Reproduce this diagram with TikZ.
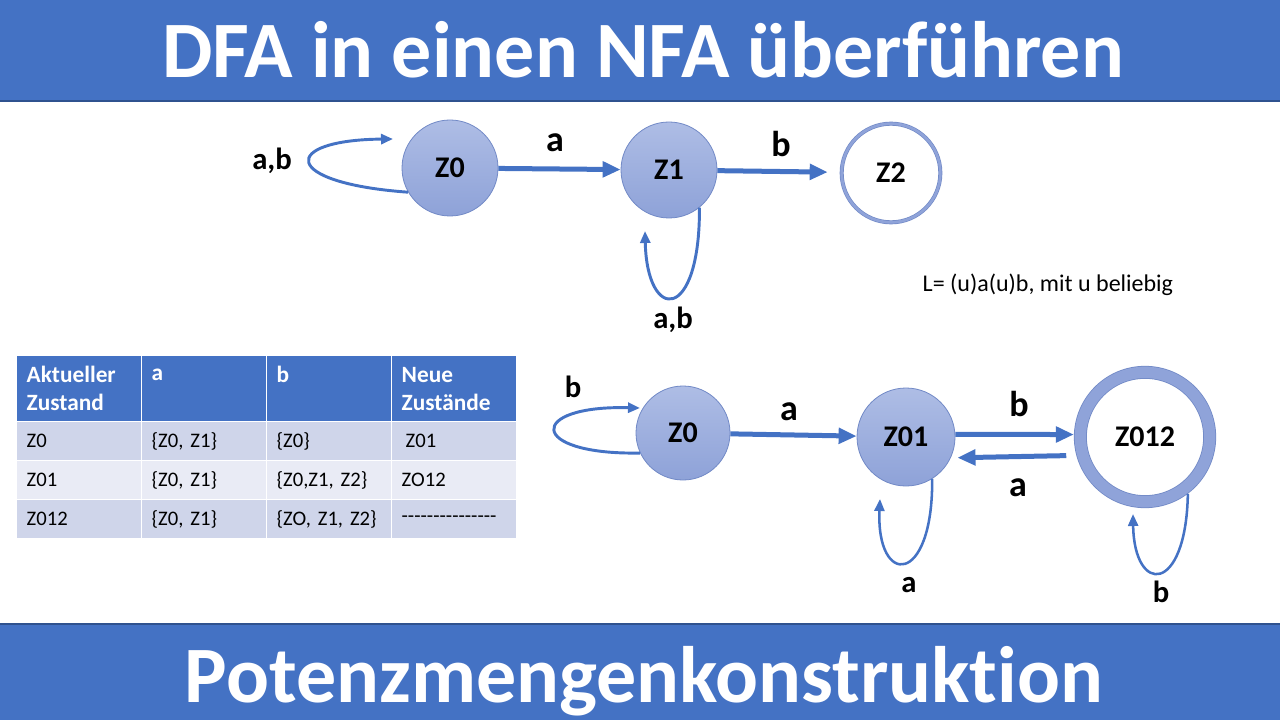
\documentclass[tikz,border=0pt]{standalone}
\usepackage{fontspec}
\setmainfont{Carlito}[Ligatures=NoCommon]
\usepackage{tikz}
\usetikzlibrary{arrows.meta,positioning,calc}

\definecolor{bandblue}{HTML}{4472C4}
\definecolor{bandline}{HTML}{2F528F}
\definecolor{nodetop}{HTML}{AEBDE5}
\definecolor{nodebot}{HTML}{8EA2D8}
\definecolor{nodeedge}{HTML}{7189C6}
\definecolor{ringblue}{HTML}{8FA3D9}
\definecolor{rowdark}{HTML}{CFD5EA}
\definecolor{rowlight}{HTML}{E9EBF5}

\begin{document}
\begin{tikzpicture}[x=0.75pt, y=-0.75pt,
    title/.style={text=white, font=\fontsize{60}{66}\selectfont\bfseries},
    state/.style={circle, draw=nodeedge, line width=0.6pt, top color=nodetop, bottom color=nodebot, minimum size=72pt, inner sep=0pt, font=\fontsize{22.5}{26}\selectfont\bfseries},
    final/.style={circle, draw=nodeedge, line width=0.5pt, double=ringblue, double distance=2pt, fill=white, minimum size=74pt, inner sep=0pt, outer sep=1.5pt, font=\fontsize{22.5}{26}\selectfont\bfseries},
    bigfinal/.style={final, line width=0.6pt, double distance=8.5pt, minimum size=97pt, outer sep=4.9pt},
    edge/.style={-{Triangle[length=13.5pt,width=11.5pt]}, line width=3.75pt, draw=bandblue},
    loopedge/.style={-{Triangle[length=9pt,width=7.5pt]}, line width=2.2pt, draw=bandblue},
    sym/.style={anchor=base, font=\fontsize{27}{30}\selectfont\bfseries},
    loopsym/.style={anchor=base, font=\fontsize{23}{26}\selectfont\bfseries},
    hcell/.style={rectangle, anchor=north west, draw=white, line width=1pt, fill=bandblue, text=white, align=left, minimum width=93.75pt, minimum height=49.5pt, text width=78.75pt, inner xsep=7.5pt, font=\fontsize{17.5}{21}\selectfont\bfseries},
    cell/.style={rectangle, anchor=north west, draw=white, line width=1pt, align=left, minimum width=93.75pt, minimum height=29.25pt, text width=78.75pt, inner xsep=7.5pt, font=\fontsize{15.5}{18}\selectfont}
]
    \useasboundingbox (0,0) rectangle (1280,720);

    % Title bands
    \fill[bandblue] (0,0) rectangle (1280,100);
    \fill[bandline] (0,100) rectangle (1280,102);
    \fill[bandblue] (0,624) rectangle (1280,720);
    \fill[bandline] (0,623) rectangle (1280,624.5);
    \node[title, anchor=base] (head) at (643,78) {DFA in einen NFA überführen};
    \node[title, anchor=base] (foot) at (644,702) {Potenzmengenkonstruktion};

    % NFA (top)
    \node[state] (z0) at (450,168) {Z0};
    \node[state] (z1) at (669,170) {Z1};
    \node[final] (z2) at (891,173) {Z2};
    \coordinate (z0in) at (393,139);
    \coordinate (z1in) at (645,231);

    \draw[edge] (z0) -- (z1);
    \draw[edge, shorten >=9pt] (z1) -- (z2);
    \draw[loopedge] (z0.210) .. controls (280,183) and (280,140) .. (z0in);
    \draw[loopedge] (z1.-51) .. controls (700,323) and (647,323) .. (z1in);

    \node[sym] (za) at (555,152) {a};
    \node[sym] (zb) at (781,157) {b};
    \node[loopsym] (z0ab) at (272,170) {a,b};
    \node[loopsym] (z1ab) at (673,328) {a,b};

    \node[anchor=base west, font=\fontsize{18}{21}\selectfont] (lang) at (918,291) {L= (u)a(u)b, mit u beliebig};

    % Table
    \node[hcell] (h1) at (16,355) {Aktueller\\Zustand};
    \node[hcell] (h2) at (141,355) {a\\~};
    \node[hcell] (h3) at (266,355) {b\\~};
    \node[hcell] (h4) at (391,355) {Neue\\Zustände};

    \node[cell, fill=rowdark] (r1c1) at (16,421) {Z0};
    \node[cell, fill=rowdark] (r1c2) at (141,421) {\{Z0, Z1\}};
    \node[cell, fill=rowdark] (r1c3) at (266,421) {\{Z0\}};
    \node[cell, fill=rowdark] (r1c4) at (391,421) {\hspace{3pt}Z01};

    \node[cell, fill=rowlight] (r2c1) at (16,460) {Z01};
    \node[cell, fill=rowlight] (r2c2) at (141,460) {\{Z0, Z1\}};
    \node[cell, fill=rowlight] (r2c3) at (266,460) {\{Z0,Z1, Z2\}};
    \node[cell, fill=rowlight] (r2c4) at (391,460) {ZO12};

    \node[cell, fill=rowdark] (r3c1) at (16,499) {Z012};
    \node[cell, fill=rowdark] (r3c2) at (141,499) {\{Z0, Z1\}};
    \node[cell, fill=rowdark] (r3c3) at (266,499) {\{ZO, Z1, Z2\}};
    \node[cell, fill=rowdark] (r3c4) at (391,499) {{-}{-}{-}{-}{-}{-}{-}{-}{-}{-}{-}{-}{-}{-}{-}};

    % DFA (bottom)
    \node[state, minimum size=70.5pt] (q0) at (683,433) {Z0};
    \node[state, minimum size=73.5pt] (q01) at (906,437) {Z01};
    \node[bigfinal] (q012) at (1145,437) {Z012};
    \coordinate (q0in) at (640,408);
    \coordinate (q01in) at (880,499);
    \coordinate (q012in) at (1133,514);

    \draw[edge] (q0) -- (q01);
    \draw[edge] (q01.3) -- (q012.178);
    \draw[edge, shorten <=7.5pt, shorten >=5pt] (q012.195) -- (q01.-25);
    \draw[loopedge] (q0.205) .. controls (527,455) and (527,405) .. (q0in);
    \draw[loopedge, line width=1.9pt] (q01.-58) .. controls (933,587) and (876,587) .. (q01in);
    \draw[loopedge, line width=1.9pt] (q012.-53) .. controls (1186,595) and (1134,595) .. (q012in);

    \node[loopsym] (q0b) at (573,397) {b};
    \node[sym] (qa) at (789,420) {a};
    \node[sym] (qb) at (1019,416) {b};
    \node[sym] (qback) at (1018,496) {a};
    \node[loopsym] (q01a) at (909,592) {a};
    \node[loopsym] (q012b) at (1161,602) {b};

\end{tikzpicture}
\end{document}
